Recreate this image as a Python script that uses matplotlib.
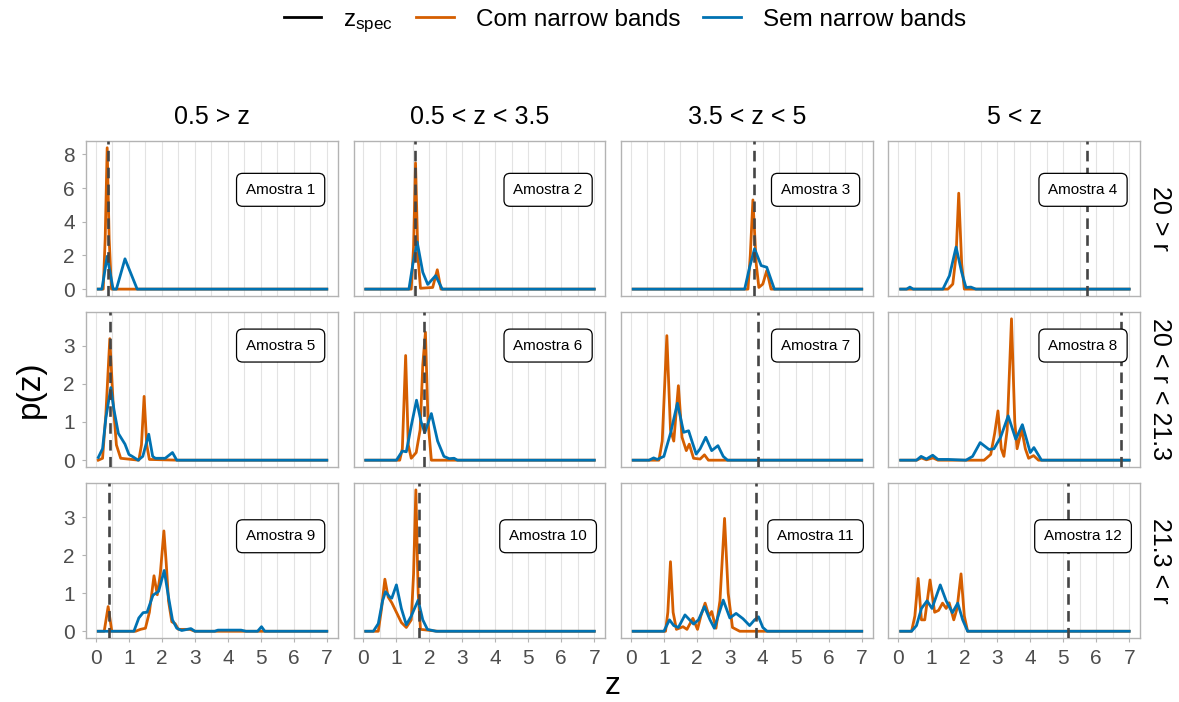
import numpy as np
import matplotlib
matplotlib.use("Agg")
import matplotlib.pyplot as plt
from matplotlib.lines import Line2D

plt.rcParams["font.family"] = ["Liberation Sans", "DejaVu Sans"]
plt.rcParams["mathtext.fontset"] = "custom"
plt.rcParams["mathtext.rm"] = "Liberation Sans"
plt.rcParams["mathtext.it"] = "Liberation Sans"

# ── Data (knots) ─────────────────────────────────────────────────────────────

col_labels = ["0.5 > z", "0.5 < z < 3.5", "3.5 < z < 5", "5 < z"]
row_labels = ["20 > r", "20 < r < 21.3", "21.3 < r"]
z_spec = [0.35, 1.55, 3.73, 5.73, 0.42, 1.83, 3.84, 6.76, 0.40, 1.69, 3.78, 5.15]

com_01 = [(0.07, 0), (0.22, 0), (0.28, 3.0), (0.34, 8.4), (0.40, 3.0), (0.47, 0), (7, 0)]
sem_01 = [(0.07, 0), (0.18, 0), (0.34, 1.95), (0.52, 0), (0.62, 0), (0.88, 1.8), (1.25, 0), (7, 0)]

com_02 = [(0.07, 0), (1.45, 0), (1.52, 2.5), (1.58, 7.5), (1.65, 2.0), (1.73, 0.05), (2.1, 0.1),
          (2.24, 1.15), (2.35, 0), (7, 0)]
sem_02 = [(0.07, 0), (1.38, 0), (1.50, 1.5), (1.63, 2.8), (1.80, 1.0), (1.95, 0.28), (2.19, 0.8),
          (2.39, 0), (7, 0)]

com_03 = [(0.07, 0), (3.55, 0), (3.62, 2.0), (3.70, 5.3), (3.80, 1.5), (3.88, 0.1), (4.0, 0.3),
          (4.12, 1.1), (4.25, 0), (7, 0)]
sem_03 = [(0.07, 0), (3.45, 0), (3.60, 1.3), (3.75, 2.4), (3.95, 1.4), (4.12, 1.3), (4.35, 0), (7, 0)]

com_04 = [(0.07, 0), (1.5, 0), (1.65, 0.3), (1.75, 2.0), (1.83, 5.7), (1.92, 1.5), (2.0, 0), (7, 0)]
sem_04 = [(0.07, 0), (0.25, 0), (0.35, 0.12), (0.45, 0), (1.35, 0), (1.55, 0.8), (1.75, 2.5),
          (1.92, 1.0), (2.05, 0.1), (2.2, 0.12), (2.35, 0), (7, 0)]

com_05 = [(0.07, 0), (0.2, 0.05), (0.3, 1.2), (0.42, 3.18), (0.52, 1.5), (0.62, 0.4), (0.75, 0.05),
          (1.3, 0), (1.38, 0.4), (1.46, 1.67), (1.54, 0.4), (1.62, 0.02), (2.5, 0), (7, 0)]
sem_05 = [(0.07, 0.07), (0.2, 0.3), (0.3, 1.1), (0.45, 1.9), (0.55, 1.3), (0.68, 0.7), (0.88, 0.42),
          (1.0, 0.15), (1.1, 0.1), (1.28, 0), (1.42, 0.1), (1.6, 0.68), (1.72, 0.1), (1.8, 0.05),
          (2.1, 0.05), (2.32, 0.2), (2.45, 0), (7, 0)]

com_06 = [(0.07, 0), (1.1, 0), (1.18, 0.3), (1.28, 2.74), (1.36, 0.4), (1.45, 0.05), (1.6, 0.2),
          (1.72, 0.8), (1.8, 2.5), (1.88, 3.35), (1.96, 1.0), (2.06, 0), (7, 0)]
sem_06 = [(0.07, 0), (1.0, 0), (1.18, 0.24), (1.3, 0.22), (1.45, 0.9), (1.61, 1.57), (1.75, 1.0),
          (1.86, 0.72), (2.06, 1.22), (2.25, 0.5), (2.44, 0.1), (2.6, 0.04), (2.75, 0.05),
          (2.85, 0), (7, 0)]

com_07 = [(0.07, 0), (0.85, 0), (0.95, 0.5), (1.09, 3.26), (1.2, 0.8), (1.3, 0.5), (1.44, 1.95),
          (1.55, 0.6), (1.68, 0.25), (1.77, 0.42), (1.9, 0.05), (2.1, 0.03), (2.23, 0.14),
          (2.35, 0), (7, 0)]
sem_07 = [(0.07, 0), (0.55, 0), (0.69, 0.06), (0.8, 0.02), (1.0, 0.1), (1.2, 0.7), (1.41, 1.49),
          (1.6, 0.73), (1.75, 0.77), (1.85, 0.5), (1.98, 0.16), (2.1, 0.3), (2.27, 0.6),
          (2.45, 0.25), (2.64, 0.38), (2.8, 0.1), (2.93, 0), (7, 0)]

com_08 = [(0.07, 0), (0.55, 0), (0.7, 0.06), (0.85, 0.01), (1.05, 0.06), (1.2, 0), (2.6, 0),
          (2.8, 0.15), (2.92, 0.7), (3.02, 1.29), (3.12, 0.3), (3.2, 0.1), (3.3, 0.8), (3.43, 3.7),
          (3.53, 1.0), (3.6, 0.3), (3.74, 0.81), (3.85, 0.3), (3.95, 0.05), (4.1, 0.12),
          (4.25, 0), (7, 0)]
sem_08 = [(0.07, 0), (0.55, 0), (0.69, 0.1), (0.85, 0.03), (1.04, 0.13), (1.2, 0.02), (1.5, 0.02),
          (2.05, 0), (2.25, 0.1), (2.48, 0.46), (2.75, 0.28), (2.9, 0.3), (3.1, 0.6), (3.33, 1.16),
          (3.56, 0.55), (3.76, 0.93), (4.0, 0.2), (4.11, 0.33), (4.34, 0), (7, 0)]

com_09 = [(0.07, 0), (0.25, 0), (0.37, 0.65), (0.48, 0), (1.2, 0), (1.35, 0.05), (1.5, 0.08),
          (1.62, 0.5), (1.76, 1.46), (1.86, 0.96), (1.95, 1.5), (2.06, 2.64), (2.13, 1.8),
          (2.2, 0.8), (2.3, 0.25), (2.4, 0.2), (2.5, 0.05), (2.85, 0.05), (3.0, 0), (7, 0)]
sem_09 = [(0.07, 0), (1.15, 0), (1.3, 0.35), (1.43, 0.49), (1.55, 0.5), (1.73, 0.95), (1.9, 1.05),
          (2.07, 1.6), (2.2, 0.9), (2.32, 0.3), (2.45, 0.08), (2.6, 0.02), (2.88, 0.07), (3.0, 0),
          (3.6, 0), (3.7, 0.03), (4.4, 0.03), (4.55, 0), (4.9, 0), (5.02, 0.12), (5.12, 0), (7, 0)]

com_10 = [(0.07, 0), (0.45, 0), (0.55, 0.6), (0.65, 1.37), (0.75, 0.9), (0.86, 0.75), (1.0, 0.5),
          (1.15, 0.23), (1.3, 0.1), (1.45, 0.3), (1.52, 1.5), (1.59, 3.72), (1.66, 1.0),
          (1.73, 0.05), (2.25, 0), (7, 0)]
sem_10 = [(0.07, 0), (0.3, 0), (0.45, 0.2), (0.58, 0.8), (0.67, 1.04), (0.8, 0.9), (0.86, 0.87),
          (1.0, 1.22), (1.15, 0.6), (1.3, 0.17), (1.45, 0.4), (1.66, 0.82), (1.8, 0.3),
          (1.94, 0.05), (2.2, 0), (7, 0)]

com_11 = [(0.07, 0), (1.05, 0), (1.12, 0.5), (1.2, 1.83), (1.28, 0.5), (1.38, 0.05), (1.58, 0.12),
          (1.7, 0.05), (1.88, 0.34), (2.02, 0.05), (2.12, 0.4), (2.25, 0.74), (2.37, 0.4),
          (2.45, 0.52), (2.58, 0.08), (2.7, 0.8), (2.84, 2.97), (2.95, 1.0), (3.08, 0.1),
          (3.3, 0), (7, 0)]
sem_11 = [(0.07, 0), (1.0, 0), (1.17, 0.3), (1.3, 0.15), (1.44, 0.1), (1.64, 0.43), (1.9, 0.19),
          (2.05, 0.3), (2.23, 0.65), (2.4, 0.3), (2.53, 0.08), (2.8, 0.82), (3.0, 0.35),
          (3.19, 0.47), (3.4, 0.33), (3.6, 0.15), (3.75, 0.3), (3.87, 0.38), (4.0, 0.1),
          (4.13, 0), (7, 0)]

com_12 = [(0.07, 0), (0.4, 0), (0.5, 0.4), (0.6, 1.39), (0.7, 0.3), (0.8, 0.3), (0.96, 1.35),
          (1.1, 0.5), (1.22, 0.55), (1.34, 0.74), (1.45, 0.6), (1.54, 0.75), (1.68, 0.3),
          (1.78, 0.6), (1.9, 1.51), (2.0, 0.4), (2.1, 0), (7, 0)]
sem_12 = [(0.07, 0), (0.4, 0), (0.55, 0.15), (0.7, 0.6), (0.87, 0.8), (1.02, 0.6), (1.27, 1.22),
          (1.45, 0.8), (1.64, 0.49), (1.8, 0.74), (1.95, 0.3), (2.1, 0), (7, 0)]

com_curves = [com_01, com_02, com_03, com_04, com_05, com_06,
              com_07, com_08, com_09, com_10, com_11, com_12]
sem_curves = [sem_01, sem_02, sem_03, sem_04, sem_05, sem_06,
              sem_07, sem_08, sem_09, sem_10, sem_11, sem_12]

# ── Style ────────────────────────────────────────────────────────────────────

C_COM = "#D55E00"
C_SEM = "#0072B2"
C_SPEC = "#454545"
GRID = "#e3e3e3"
FRAME = "#b3b3b3"
TICK_TXT = "#4d4d4d"

label_y = [5.9, 3.0, 2.5]  # row-wise y of the "Amostra" boxes

fig, axes = plt.subplots(3, 4, figsize=(11.79, 7.02), dpi=100, sharex=True)
fig.subplots_adjust(left=0.073, right=0.967, top=0.7996, bottom=0.0907,
                    wspace=0.063, hspace=0.10)

for r in range(3):
    idx = range(r * 4, r * 4 + 4)
    ymax = max(max(p for _, p in com_curves[i] + sem_curves[i]) for i in idx)
    for c in range(4):
        i = r * 4 + c
        ax = axes[r, c]
        com = np.array(com_curves[i])
        sem = np.array(sem_curves[i])

        ax.set_xlim(-0.3, 7.33)
        ax.set_ylim(-0.05 * ymax, 1.05 * ymax)
        for gx in np.arange(0, 7.01, 0.5):
            ax.axvline(gx, color=GRID, lw=0.8, zorder=0)

        ax.plot(com[:, 0], com[:, 1], color=C_COM, lw=2.0, zorder=2,
                solid_joinstyle="round")
        ax.plot(sem[:, 0], sem[:, 1], color=C_SEM, lw=2.0, zorder=3,
                solid_joinstyle="round")
        ax.axvline(z_spec[i], color=C_SPEC, lw=1.9, ls=(0, (4, 2.4)), zorder=4)

        ax.text(5.6, label_y[r], f"Amostra {i + 1}", ha="center", va="center",
                fontsize=11, color="black", zorder=5,
                bbox=dict(boxstyle="round,pad=0.62,rounding_size=0.4",
                          fc="white", ec="black", lw=0.9))

        for sp in ax.spines.values():
            sp.set_edgecolor(FRAME)
            sp.set_linewidth(1.0)
        ax.tick_params(colors=FRAME, labelcolor=TICK_TXT, labelsize=15,
                       length=3, width=0.8, pad=5)
        ax.set_xticks(range(8))
        if r == 0:
            ax.set_yticks([0, 2, 4, 6, 8])
        else:
            ax.set_yticks([0, 1, 2, 3])
        if c != 0:
            ax.tick_params(axis="y", left=False, labelleft=False)
        if r != 2:
            ax.tick_params(axis="x", bottom=False, labelbottom=False)

        if r == 0:
            ax.text(0.5, 1.153, col_labels[c], transform=ax.transAxes,
                    ha="center", va="center", fontsize=18, color="black")
        if c == 3:
            ax.text(1.079, 0.5, row_labels[r], transform=ax.transAxes, rotation=270,
                    ha="center", va="center", fontsize=18, color="black")

fig.text(30 / 1179, 1 - 389 / 702, "p(z)", rotation=90, ha="center", va="center",
         fontsize=24, color="black")
fig.text(613 / 1179, 1 - 686 / 702, "z", ha="center", va="center",
         fontsize=23, color="black")

handles = [Line2D([], [], color="black", lw=2.0),
           Line2D([], [], color=C_COM, lw=2.0),
           Line2D([], [], color=C_SEM, lw=2.0)]
labels = [r"z$_{\mathregular{spec}}$", "Com narrow bands", "Sem narrow bands"]
fig.legend(handles, labels, loc="center", bbox_to_anchor=(0.53, 0.969), ncol=3,
           frameon=False, fontsize=17.5, handlelength=1.55, handletextpad=0.9,
           columnspacing=0.95)

fig.savefig("out.png", dpi=100)
